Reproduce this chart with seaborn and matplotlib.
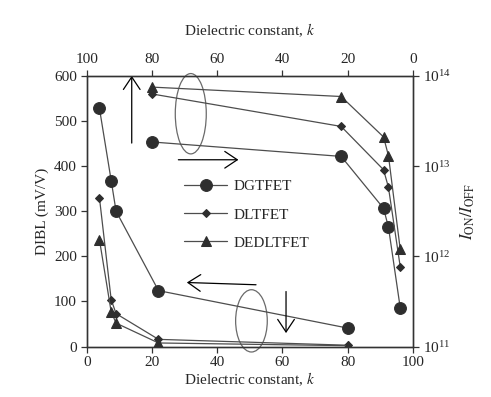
import matplotlib
matplotlib.use('Agg')
import matplotlib.pyplot as plt
import seaborn as sns
from matplotlib.patches import Ellipse
from matplotlib.ticker import NullLocator, LogLocator

# Dielectric constant values (bottom axis for DIBL, top axis for ION/IOFF)
k_values = [3.9, 7.5, 9, 22, 80]

# DIBL (mV/V)
dibl_dgtfet = [528, 368, 300, 124, 41]
dibl_dltfet = [330, 104, 73, 16, 3]
dibl_dedltfet = [237, 77, 52, 8, 2]

# ION/IOFF ratio
ratio_dgtfet = [2.7e11, 2.1e12, 3.4e12, 1.28e13, 1.85e13]
ratio_dltfet = [7.7e11, 5.8e12, 9.1e12, 2.75e13, 6.3e13]
ratio_dedltfet = [1.2e12, 1.3e13, 2.1e13, 5.9e13, 7.5e13]

devices = ['DGTFET', 'DLTFET', 'DEDLTFET']
dibl_series = [dibl_dgtfet, dibl_dltfet, dibl_dedltfet]
ratio_series = [ratio_dgtfet, ratio_dltfet, ratio_dedltfet]
markers = ['o', 'D', '^']
marker_sizes = [8.5, 4.5, 6.5]

sns.set_style('ticks')
plt.rcParams['font.family'] = ['Liberation Serif', 'DejaVu Serif']
plt.rcParams['mathtext.fontset'] = 'stix'
plt.rcParams['xtick.direction'] = 'out'
plt.rcParams['ytick.direction'] = 'out'

line_col = '#4d4d4d'
mark_col = '#2e2e2e'
spine_col = '#333333'
fs = 11

fig, ax = plt.subplots(figsize=(4.91, 3.97), dpi=100)
fig.subplots_adjust(left=0.1766, right=0.841, bottom=0.127, top=0.809)

# DIBL vs k (bottom / left axes)
for name, vals, m, ms in zip(devices, dibl_series, markers, marker_sizes):
    sns.lineplot(x=k_values, y=vals, ax=ax, color=line_col, marker=m, markersize=ms,
                 markerfacecolor=mark_col, markeredgecolor=mark_col, linewidth=0.9,
                 sort=False, label=name)

ax.set_xlim(0, 100)
ax.set_ylim(0, 600)
ax.set_xticks(range(0, 101, 20))
ax.set_yticks(range(0, 601, 100))
ax.set_xlabel('Dielectric constant, $k$', fontsize=fs, labelpad=1)
ax.set_ylabel('DIBL (mV/V)', fontsize=fs, labelpad=4)

# ION/IOFF vs k (top / right axes)
ax2 = ax.twinx()
ax2.set_yscale('log')
ax2.set_ylim(1e11, 1e14)
ax2.yaxis.set_major_locator(LogLocator(base=10, numticks=10))
ax2.yaxis.set_minor_locator(NullLocator())
ax2.set_ylabel(r'$I_{\mathrm{ON}}/I_{\mathrm{OFF}}$', fontsize=fs + 1, labelpad=6)

ax3 = ax2.twiny()
ax3.set_xlim(100, 0)
ax3.set_xticks(range(0, 101, 20))
ax3.set_xlabel('Dielectric constant, $k$', fontsize=fs, labelpad=13)
for name, vals, m, ms in zip(devices, ratio_series, markers, marker_sizes):
    sns.lineplot(x=k_values, y=vals, ax=ax3, color=line_col, marker=m, markersize=ms,
                 markerfacecolor=mark_col, markeredgecolor=mark_col, linewidth=0.9,
                 sort=False, legend=False)
ax3.set_ylim(1e11, 1e14)
ax3.yaxis.set_minor_locator(NullLocator())

for a in (ax, ax2, ax3):
    a.tick_params(labelsize=fs, length=4, width=0.9, color=spine_col, pad=3)
    for sp in a.spines.values():
        sp.set_visible(True)
        sp.set_color(spine_col)
        sp.set_linewidth(0.9)

# Legend
ax.legend(loc='center left', bbox_to_anchor=(0.28, 0.487), borderaxespad=0,
          frameon=False, fontsize=fs, handlelength=2.8, labelspacing=0.95,
          handletextpad=0.4)

# Ellipses and arrows
ax.add_patch(Ellipse((31.9, 516), width=9.5, height=178, fill=False,
                     edgecolor='#6a6a6a', linewidth=0.9, clip_on=False))
ax.add_patch(Ellipse((50.5, 57), width=9.7, height=138, fill=False,
                     edgecolor='#6a6a6a', linewidth=0.9, clip_on=False))

arrow = dict(arrowstyle='->,head_length=0.45,head_width=0.3', color='black',
             linewidth=0.9, mutation_scale=20, shrinkA=0, shrinkB=0)
ax.annotate('', xy=(13.8, 600), xytext=(13.8, 451), arrowprops=arrow, annotation_clip=False)
ax.annotate('', xy=(46.5, 414), xytext=(28.1, 414), arrowprops=arrow)
ax.annotate('', xy=(30.7, 142), xytext=(51.9, 137), arrowprops=arrow)
ax.annotate('', xy=(61.1, 30), xytext=(61.1, 122), arrowprops=arrow)

plt.savefig('out.png', dpi=100)
plt.close()
